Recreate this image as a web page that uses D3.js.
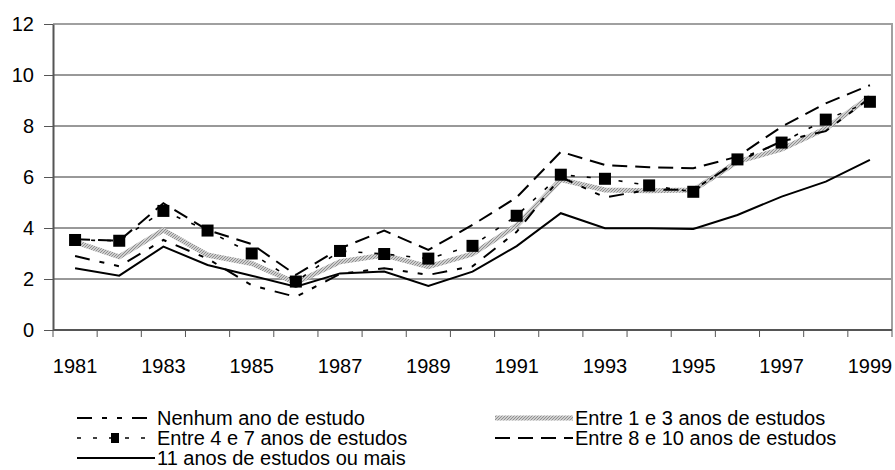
<html>
<head>
<meta charset="utf-8">
<style>
  body { margin: 0; background: #fff; }
  text { font-family: "Liberation Sans", Arial, sans-serif; fill: #000; }
</style>
</head>
<body>
<script src="https://d3js.org/d3.v7.min.js"></script>
<div id="chart"></div>
<script>
// data
var years = ["1981","1982","1983","1984","1985","1986","1987","1988","1989","1990",
             "1991","1992","1993","1994","1995","1996","1997","1998","1999"];
var yTicks = [0, 2, 4, 6, 8, 10, 12];
var xLabels = ["1981","1983","1985","1987","1989","1991","1993","1995","1997","1999"];

var nenhum   = [2.9, 2.5, 3.53, 2.8, 1.75, 1.3, 2.2, 2.42, 2.16, 2.5, 3.85, 6.0, 5.2, 5.5, 5.5, 6.6, 7.4, 7.8, 9.1];
var entre1_3 = [3.46, 2.87, 3.92, 2.94, 2.61, 1.85, 2.68, 2.94, 2.48, 2.98, 4.1, 5.9, 5.49, 5.46, 5.49, 6.6, 7.09, 7.9, 9.15];
var entre4_7 = [3.53, 3.5, 4.67, 3.9, 3.0, 1.9, 3.1, 2.98, 2.8, 3.3, 4.48, 6.09, 5.93, 5.67, 5.42, 6.69, 7.35, 8.25, 8.95];
var entre8_10 = [3.56, 3.5, 4.97, 3.92, 3.37, 2.16, 3.2, 3.9, 3.14, 4.12, 5.2, 6.99, 6.47, 6.38, 6.34, 6.8, 7.97, 8.89, 9.6];
var onzeMais = [2.42, 2.13, 3.27, 2.55, 2.13, 1.7, 2.22, 2.29, 1.73, 2.29, 3.29, 4.58, 3.99, 3.99, 3.96, 4.51, 5.23, 5.82, 6.67];

var seriesNames = ["Nenhum ano de estudo", "Entre 1 e 3 anos de estudos",
                   "Entre 4 e 7 anos de estudos", "Entre 8 e 10 anos de estudos",
                   "11 anos de estudos ou mais"];

var W = 895, H = 470;
var margin = {top: 24, right: 3, bottom: 140, left: 53};
var width = W - margin.left - margin.right,
    height = H - margin.top - margin.bottom;

var svg = d3.select("#chart").append("svg")
    .attr("width", W).attr("height", H);

// hatched grey for the 1-3 years series
var defs = svg.append("defs");
var pat = defs.append("pattern")
    .attr("id", "hatch").attr("patternUnits", "userSpaceOnUse")
    .attr("width", 3).attr("height", 3);
pat.append("rect").attr("width", 3).attr("height", 3).attr("fill", "#cfcfcf");
pat.append("path").attr("d", "M0,3 L3,0").attr("stroke", "#8f8f8f").attr("stroke-width", 1);

var g = svg.append("g").attr("transform", "translate(" + margin.left + "," + margin.top + ")");

var x = d3.scaleBand().domain(years).range([0, width]);
var y = d3.scaleLinear().domain([0, 12]).range([height, 0]);
var cx = function(i) { return x(years[i]) + x.bandwidth() / 2; };

// gridlines
g.selectAll(".grid").data(yTicks.filter(function(d) { return d > 0 && d < 12; }))
  .enter().append("line")
    .attr("x1", 0).attr("x2", width)
    .attr("y1", function(d) { return y(d); }).attr("y2", function(d) { return y(d); })
    .attr("stroke", "#333").attr("stroke-width", 1);

// plot frame (top & right grey)
g.append("path")
  .attr("d", "M0," + y(12) + "H" + width + "V" + height)
  .attr("fill", "none").attr("stroke", "#a0a0a0").attr("stroke-width", 2);

// y axis
var yAxis = g.append("g")
  .call(d3.axisLeft(y).tickValues(yTicks).tickSize(9).tickSizeOuter(0).tickPadding(10));
yAxis.select(".domain").attr("stroke", "#555").attr("stroke-width", 2);
yAxis.selectAll(".tick line").attr("stroke", "#555");
yAxis.selectAll("text").style("font-size", "20px").attr("font-family", "Liberation Sans, Arial");

// x axis: ticks at band boundaries
var xAxisG = g.append("g").attr("transform", "translate(0," + height + ")");
xAxisG.append("line").attr("x1", 0).attr("x2", width).attr("stroke", "#555").attr("stroke-width", 2);
var bounds = years.map(function(d) { return x(d); }).concat([width]);
xAxisG.selectAll(".xt").data(bounds).enter().append("line")
  .attr("x1", function(d) { return d; }).attr("x2", function(d) { return d; })
  .attr("y1", 0).attr("y2", 7).attr("stroke", "#555");
xAxisG.selectAll(".xl").data(xLabels).enter().append("text")
  .attr("x", function(d) { return x(d) + x.bandwidth() / 2; })
  .attr("y", 43).attr("text-anchor", "middle")
  .style("font-size", "20px").text(function(d) { return d; });

var line = d3.line().x(function(d, i) { return cx(i); }).y(function(d) { return y(d); });

var styles = [
  {data: nenhum,    stroke: "#000", width: 2, dash: "15,10,5,10,5,10"},
  {data: entre1_3,  stroke: "url(#hatch)", width: 5, dash: null},
  {data: entre4_7,  stroke: "#000", width: 1.6, dash: "4,12"},
  {data: entre8_10, stroke: "#000", width: 2, dash: "15,8"},
  {data: onzeMais,  stroke: "#000", width: 2, dash: null}
];

var order = [1, 4, 0, 3, 2];
order.forEach(function(k) {
  var s = styles[k];
  g.append("path").datum(s.data)
    .attr("fill", "none").attr("stroke", s.stroke).attr("stroke-width", s.width)
    .attr("stroke-dasharray", s.dash).attr("stroke-linejoin", "miter")
    .attr("d", line);
});

// square markers
var ms = 12;
g.selectAll(".mk").data(entre4_7).enter().append("rect")
  .attr("x", function(d, i) { return cx(i) - ms / 2; })
  .attr("y", function(d) { return y(d) - ms / 2; })
  .attr("width", ms).attr("height", ms).attr("fill", "#000");

// legend
var legPos = [[77, 418], [495, 418], [77, 438], [495, 438], [77, 458]];
var leg = svg.append("g");
styles.forEach(function(s, k) {
  var lx = legPos[k][0], ly = legPos[k][1];
  var lg = leg.append("g");
  lg.append("line").attr("x1", lx).attr("x2", lx + 78).attr("y1", ly).attr("y2", ly)
    .attr("stroke", s.stroke).attr("stroke-width", k === 1 ? 5 : s.width)
    .attr("stroke-dasharray", s.dash);
  if (k === 2) {
    lg.append("rect").attr("x", lx + 34).attr("y", ly - 5)
      .attr("width", 8).attr("height", 10).attr("fill", "#000");
  }
  lg.append("text").attr("x", lx + 80).attr("y", ly + 7)
    .style("font-size", "20px").text(seriesNames[k]);
});
</script>
</body>
</html>
